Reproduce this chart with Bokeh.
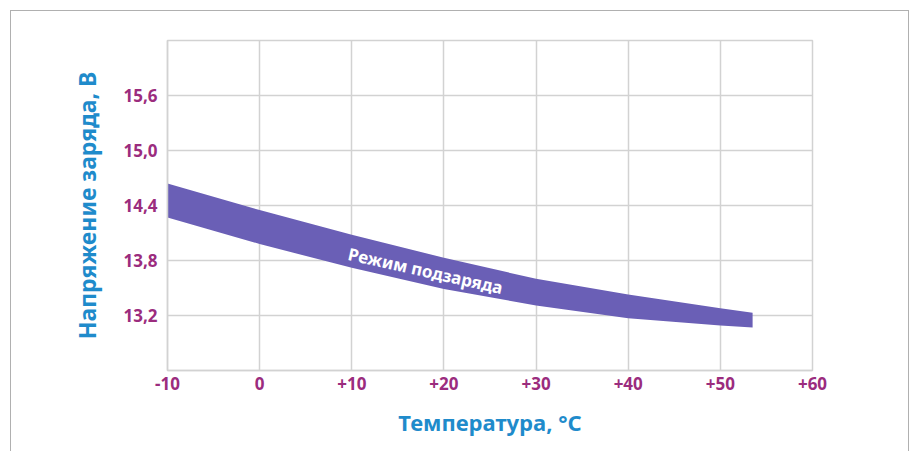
from bokeh.plotting import figure
from bokeh.models import FixedTicker, Range1d, Label, Title
from bokeh.embed import file_html
from bokeh.resources import INLINE

# Data
temps = [-10, 0, 10, 20, 30, 40, 50, 53.5]
upper = [14.64, 14.35, 14.08, 13.83, 13.60, 13.43, 13.28, 13.23]
lower = [14.27, 13.98, 13.72, 13.49, 13.31, 13.17, 13.09, 13.07]

x_ticks = [-10, 0, 10, 20, 30, 40, 50, 60]
x_tick_labels = ["-10", "0", "+10", "+20", "+30", "+40", "+50", "+60"]
y_ticks = [13.2, 13.8, 14.4, 15.0, 15.6]
y_tick_labels = ["13,2", "13,8", "14,4", "15,0", "15,6"]
band_label = "Режим подзаряда"
x_title = "Температура, °C"
y_title = "Напряжение заряда, В"

FONT = "Noto Sans"
TICK_COLOR = "#9b2c7e"
TITLE_COLOR = "#1f8bcb"
BAND_COLOR = "#6a5fb6"
GRID_COLOR = "#d2d2d2"

p = figure(width=899, height=441, output_backend="svg", toolbar_location=None,
           x_range=Range1d(-10, 60), y_range=Range1d(12.6, 16.2))
p.margin = (10, 0, 0, 10)
p.styles = {"border-top": "1px solid #b0b0b0", "border-left": "1px solid #b0b0b0",
            "border-right": "1px solid #b0b0b0"}
p.min_border_left = 156
p.min_border_right = 98
p.min_border_top = 29
p.min_border_bottom = 82
p.background_fill_color = "white"
p.border_fill_color = "white"
p.outline_line_color = GRID_COLOR
p.outline_line_width = 1.5

p.xaxis.ticker = FixedTicker(ticks=x_ticks)
p.xaxis.major_label_overrides = {t: l for t, l in zip(x_ticks, x_tick_labels)}
p.yaxis.ticker = FixedTicker(ticks=y_ticks)
p.yaxis.major_label_overrides = {t: l for t, l in zip(y_ticks, y_tick_labels)}

p.xgrid.ticker = FixedTicker(ticks=x_ticks)
p.ygrid.ticker = FixedTicker(ticks=y_ticks)
for g in (p.xgrid, p.ygrid):
    g.grid_line_color = GRID_COLOR
    g.grid_line_width = 1.5

for ax in (p.xaxis, p.yaxis):
    ax.axis_line_color = GRID_COLOR
    ax.axis_line_width = 1.5
    ax.major_tick_line_color = None
    ax.minor_tick_line_color = None
    ax.major_tick_out = 0
    ax.major_tick_in = 0
    ax.major_label_text_font = FONT
    ax.major_label_text_font_size = "17px"
    ax.major_label_text_color = TICK_COLOR
    ax.major_label_text_font_style = "bold"
    ax.axis_label_text_font = FONT
    ax.axis_label_text_font_style = "bold"
    ax.axis_label_text_color = TITLE_COLOR

p.xaxis.axis_label = x_title
p.xaxis.axis_label_text_font_size = "22px"
p.xaxis.major_label_standoff = 6
p.xaxis.axis_label_standoff = 14
p.yaxis.major_label_standoff = 10

p.varea(x=temps, y1=lower, y2=upper, fill_color=BAND_COLOR)

p.add_layout(Label(x=18.0, y=13.69, text=band_label, angle=-0.22,
                   text_font=FONT, text_font_size="17px",
                   text_font_style="bold", text_color="white",
                   text_align="center", text_baseline="middle"))

p.add_layout(Title(text=y_title, align="center", offset=13, standoff=35,
                   text_font=FONT, text_font_size="23px",
                   text_font_style="bold", text_color=TITLE_COLOR), "left")

open("out.html", "w").write(file_html(p, INLINE))
